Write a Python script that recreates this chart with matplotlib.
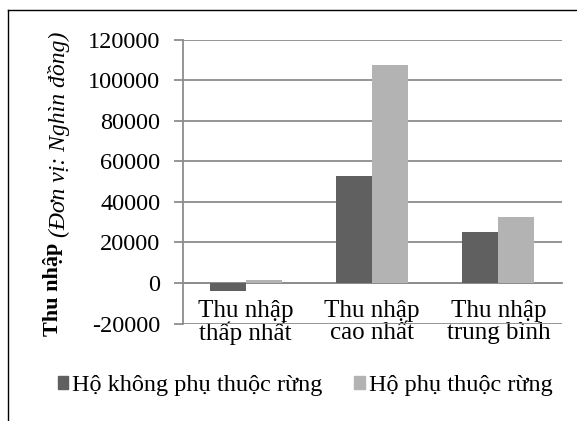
import matplotlib.pyplot as plt
import numpy as np
from matplotlib.lines import Line2D
from matplotlib.patches import Patch

plt.rcParams["font.family"] = ["Liberation Serif", "FreeSerif", "DejaVu Serif"]

# Dữ liệu
categories = ["Thu nhập\nthấp nhất", "Thu nhập\ncao nhất", "Thu nhập\ntrung bình"]
series_names = ["Hộ không phụ thuộc rừng", "Hộ phụ thuộc rừng"]
khong_phu_thuoc = [-4200, 52500, 25000]
phu_thuoc = [1200, 107500, 32500]
yticks = [-20000, 0, 20000, 40000, 60000, 80000, 100000, 120000]

dark = "#606060"
light = "#b3b3b3"
grid_col = "#8c8c8c"
fs = 17.5

fig = plt.figure(figsize=(5.77, 4.21), dpi=100)
ax = fig.add_axes([182.5 / 577, 1 - 323.5 / 421, 379 / 577, (323.5 - 39.5) / 421])

x = np.arange(len(categories))
w = 0.285
ax.bar(x - w / 2, khong_phu_thuoc, w, color=dark, zorder=3)
ax.bar(x + w / 2, phu_thuoc, w, color=light, zorder=3)

ax.set_xlim(-0.5, len(categories) - 0.5)
ax.set_ylim(-20000, 120000)
ax.set_yticks(yticks)
ax.set_yticklabels([str(v) for v in yticks], fontsize=fs)
ax.yaxis.grid(True, color=grid_col, linewidth=1.3, zorder=0)
ax.tick_params(axis="y", length=6.5, width=1.3, color=grid_col, pad=9.5)

# Trục hoành nằm ở 0
ax.spines["bottom"].set_position(("data", 0))
ax.spines["bottom"].set_color(grid_col)
ax.spines["bottom"].set_linewidth(1.3)
ax.spines["left"].set_color(grid_col)
ax.spines["left"].set_linewidth(1.3)
ax.spines["top"].set_visible(False)
ax.spines["right"].set_visible(False)
ax.set_xticks(x)
ax.set_xticklabels(categories, fontsize=18, linespacing=1.0)
ax.tick_params(axis="x", length=0, pad=12)

# Nhãn trục tung
fig.text(58 / 577, 1 - 336 / 421, "Thu nhập", rotation=90, rotation_mode="anchor",
         ha="left", va="baseline", fontsize=16, fontweight="bold")
fig.text(65 / 577, 1 - 237 / 421, "(Đơn vị: Nghìn đồng)", rotation=90,
         rotation_mode="anchor", ha="left", va="baseline", fontsize=17, style="italic")

# Chú giải
handles = [Patch(color=dark), Patch(color=light)]
fig.legend(handles, series_names, loc="center", bbox_to_anchor=(305 / 577, 1 - 386 / 421),
           ncol=2, frameon=False, fontsize=fs, handlelength=0.45, handleheight=0.45,
           handletextpad=0.15, columnspacing=1.3, borderpad=0)

# Khung viền
fig.add_artist(Line2D([7.5 / 577, 7.5 / 577], [0, 1 - 10 / 421], color="black", linewidth=1))
fig.add_artist(Line2D([7.5 / 577, 1], [1 - 10 / 421, 1 - 10 / 421], color="black", linewidth=1))

plt.savefig("out.png", dpi=100)
